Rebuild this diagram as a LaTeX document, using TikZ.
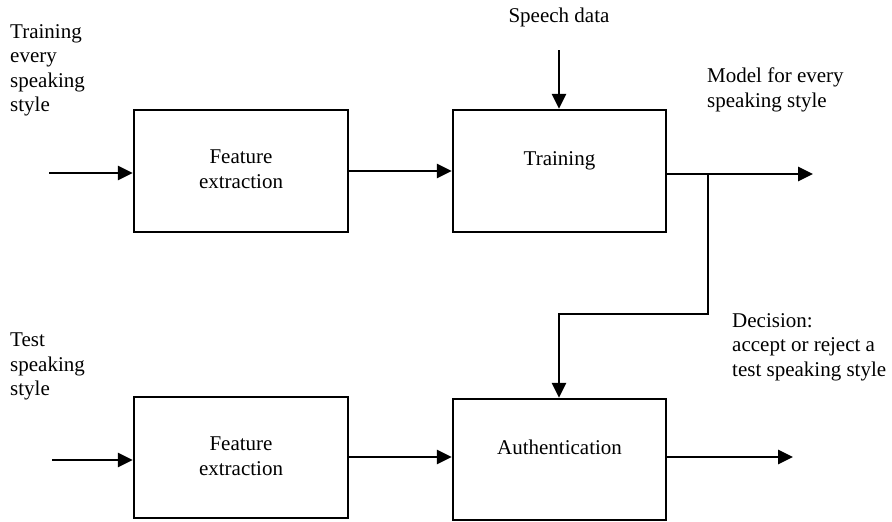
\documentclass[tikz,border=0pt]{standalone}
\usepackage{fontspec}
\setmainfont{Liberation Serif}
\usetikzlibrary{arrows.meta}
\begin{document}
\begin{tikzpicture}[x=1pt,y=-1pt,
  box/.style={draw, line width=2.2pt, inner sep=0pt},
  lbl/.style={font=\fontsize{21}{24.5}\selectfont, inner sep=0pt},
  arr/.style={line width=2.8pt, -{Triangle[length=15pt,width=14pt]}},
  thinline/.style={line width=1.6pt}]
\useasboundingbox (0,0) rectangle (892,522);
% boxes
\node[box, minimum width=214pt, minimum height=122pt] (fe1) at (241,171) {};
\node[box, minimum width=213pt, minimum height=122pt] (tr) at (559.5,171) {};
\node[box, minimum width=214pt, minimum height=121pt] (fe2) at (241,457.5) {};
\node[box, minimum width=213pt, minimum height=121pt] (au) at (559.5,459.5) {};
% box texts
\node[lbl, anchor=north, align=center] (fe1t) at (241,150) {Feature\\extraction};
\node[lbl, anchor=base] (trt) at (559.5,165) {Training};
\node[lbl, anchor=north, align=center] (fe2t) at (241,437) {Feature\\extraction};
\node[lbl, anchor=base] (aut) at (559.5,454) {Authentication};
% free texts
\node[lbl, anchor=north west, align=left] (tin1) at (10,24) {Training\\every\\speaking\\style};
\node[lbl, anchor=base] (tsd) at (559,22) {Speech data};
\node[lbl, anchor=north west, align=left] (tmod) at (707,68) {Model for every\\speaking style};
\node[lbl, anchor=north west, align=left] (tin2) at (10,333) {Test\\speaking\\style};
\node[lbl, anchor=north west, align=left] (tdec) at (732,313) {Decision:\\accept or reject a\\test speaking style};
% connectors
\coordinate (in1) at (49,173);
\draw[arr] (in1) -- (fe1.west |- in1);
\draw[arr] (fe1.east) -- (tr.west);
\coordinate (sd) at (559,50);
\draw[arr] (sd) -- (sd |- tr.north);
\coordinate (out1) at (813,174);
\draw[arr] (tr.east |- out1) -- (out1);
\coordinate (br) at (708,174);
\coordinate (bend1) at (708,314);
\coordinate (bend2) at (559,314);
\draw[thinline] (br) -- (bend1) -- (bend2);
\draw[arr] ([yshift=0.8pt]bend2) -- (bend2 |- au.north);
\coordinate (in2) at (52,460);
\draw[arr] (in2) -- (fe2.west |- in2);
\coordinate (mid2) at (348,457);
\draw[arr] (fe2.east |- mid2) -- (au.west |- mid2);
\coordinate (out2) at (793,457);
\draw[arr] (au.east |- out2) -- (out2);
\end{tikzpicture}
\end{document}
